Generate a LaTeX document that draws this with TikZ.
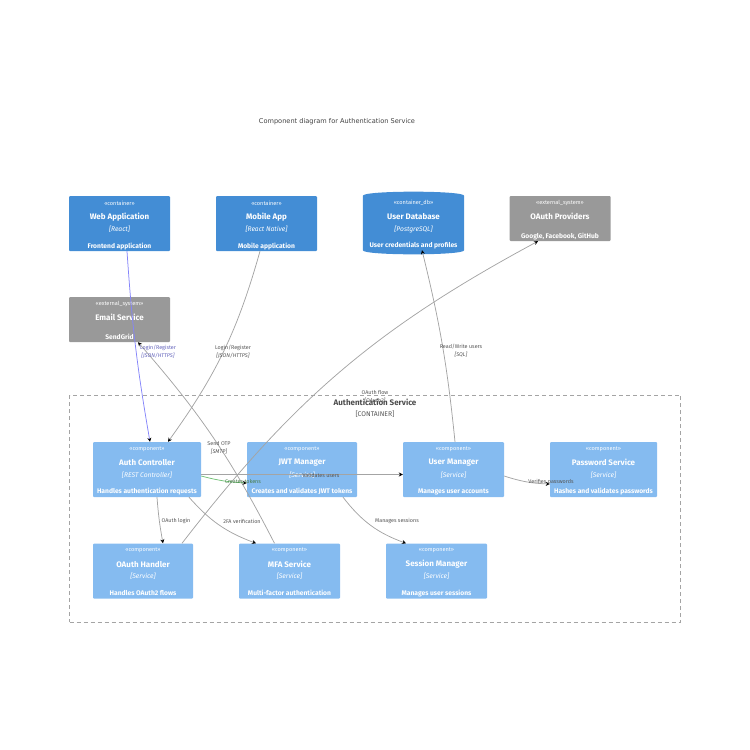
\documentclass[tikz,border=0pt]{standalone}
\usepackage{fontspec}
\setmainfont{Fira Sans}
\newfontfamily\titlefont{DejaVu Sans}
\usetikzlibrary{arrows.meta,positioning,calc}
\definecolor{containerblue}{HTML}{438DD5}
\definecolor{componentblue}{HTML}{85BBF0}
\definecolor{externalgray}{HTML}{999999}
\definecolor{linegray}{HTML}{A4A4A4}
\definecolor{labelgray}{HTML}{555555}
\definecolor{loginblue}{HTML}{8484FA}
\definecolor{tokengreen}{HTML}{70C074}
\tikzset{
	box/.style = {rectangle,rounded corners=1pt,inner sep=0pt},
	boxtext/.style = {text=white,inner sep=0pt,align=center},
	stereo/.style = {boxtext,font=\fontsize{5.6}{5}\selectfont},
	boxtitle/.style = {boxtext,font=\fontsize{8}{9}\selectfont\bfseries},
	boxtech/.style = {boxtext,font=\fontsize{6.7}{8}\selectfont\itshape},
	boxdesc/.style = {boxtext,font=\fontsize{6.7}{8}\selectfont\bfseries},
	rel/.style = {-{Stealth[length=4pt,width=4pt,color=black]},draw=linegray,line width=0.75pt},
	rellabel/.style = {inner sep=0pt,align=center,text=labelgray,font=\fontsize{5.4}{8}\selectfont},
}
\begin{document}
\begin{tikzpicture}[x=1pt,y=-1pt]
	\useasboundingbox (0,0) rectangle (750,750);

	\node[inner sep=0pt,text=black!75,font=\titlefont\fontsize{6.6}{8}\selectfont] (diagramtitle) at (337,121.5) {Component diagram for Authentication Service};

	% boundary
	\node[rectangle,draw=linegray,line width=0.8pt,dash pattern=on 4pt off 3pt,minimum width=611pt,minimum height=227pt,inner sep=0pt] (boundary) at (375,508.5) {};
	\node[inner sep=0pt,text=black!70,font=\fontsize{8}{8}\selectfont\bfseries] (boundarytitle) at (375,402) {Authentication Service};
	\node[inner sep=0pt,text=labelgray,font=\fontsize{6.8}{8}\selectfont] (boundarytype) at (375,414) {[CONTAINER]};

	% containers
	\foreach \nm/\x/\ti/\te/\de in {web/119.5/Web Application/React/Frontend application,mobile/266.5/Mobile App/React Native/Mobile application}{
		\node[box,fill=containerblue,minimum width=101pt,minimum height=55pt] (\nm) at (\x,223.5) {};
		\node[stereo] (\nm-st) at (\x,203) {<<container>>};
		\node[boxtitle] (\nm-ti) at (\x,216.8) {\ti};
		\node[boxtech] (\nm-te) at (\x,229.3) {[\te]};
		\node[boxdesc] (\nm-de) at (\x,246.3) {\de};
	}

	% database
	\node[minimum width=101pt,minimum height=54pt,inner sep=0pt] (db) at (413.5,223) {};
	\fill[containerblue] (db.north west) .. controls ([yshift=5.5pt]db.north west) and ([yshift=5.5pt]db.north east) .. (db.north east) -- (db.south east) .. controls ([yshift=-5.5pt]db.south east) and ([yshift=-5.5pt]db.south west) .. (db.south west) -- cycle;
	\node[stereo] (db-st) at (413.5,203) {<<container\_db>>};
	\node[boxtitle] (db-ti) at (413.5,216.8) {User Database};
	\node[boxtech] (db-te) at (413.5,229.3) {[PostgreSQL]};
	\node[boxdesc] (db-de) at (413.5,245.3) {User credentials and profiles};

	% external systems
	\foreach \nm/\x/\y/\ti/\de in {email/119.5/319.5/Email Service/SendGrid,oauth/560/218.5/OAuth Providers/{Google, Facebook, GitHub}}{
		\node[box,fill=externalgray,minimum width=101pt,minimum height=45pt] (\nm) at (\x,\y) {};
		\node[stereo] (\nm-st) at ($(\nm.north)+(0,7)$) {<<external\_system>>};
		\node[boxtitle] (\nm-ti) at ($(\nm.north)+(0,20.8)$) {\ti};
		\node[boxdesc] (\nm-de) at ($(\nm.north)+(0,40.3)$) {\de};
	}

	% components
	\foreach \nm/\x/\y/\w/\ti/\te/\de in {
		auth/147/469.5/108/Auth Controller/REST Controller/Handles authentication requests,
		jwt/302/469.5/110/JWT Manager/Service/Creates and validates JWT tokens,
		user/453.5/469.5/101/User Manager/Service/Manages user accounts,
		pass/603.5/469.5/107/Password Service/Service/Hashes and validates passwords,
		handler/143/571/100/OAuth Handler/Service/Handles OAuth2 flows,
		mfa/289.5/571/101/MFA Service/Service/Multi-factor authentication,
		session/436.5/571/101/Session Manager/Service/Manages user sessions}{
		\node[box,fill=componentblue,minimum width=\w pt,minimum height=55pt] (\nm) at (\x,\y) {};
		\node[stereo] (\nm-st) at ($(\nm.north)+(0,7)$) {<<component>>};
		\node[boxtitle] (\nm-ti) at ($(\nm.north)+(0,20.8)$) {\ti};
		\node[boxtech] (\nm-te) at ($(\nm.north)+(0,33.3)$) {[\te]};
		\node[boxdesc] (\nm-de) at ($(\nm.north)+(0,49.8)$) {\de};
	}

	% relations
	\draw[rel,draw=loginblue] ([xshift=7.5pt]web.south) to[bend right=3] ([xshift=3pt]auth.north);
	\draw[rel] ([xshift=-6.5pt]mobile.south) to[bend left=10] ([xshift=21pt]auth.north);
	\draw[rel] ([xshift=-15pt]mfa.north) to[bend right=7] ([xshift=18.5pt]email.south);
	\draw[rel] ([xshift=39pt]handler.north) to[bend left=12] ([xshift=-22pt]oauth.south);
	\draw[rel] ([xshift=1.5pt]user.north) to[bend right=4] ([xshift=8.5pt]db.south);
	\draw[rel] ([yshift=-5pt]auth.east) -- ([yshift=-5pt]user.west);
	\draw[rel,draw=tokengreen] ([yshift=-6.5pt]auth.east) to[bend right=6] ([yshift=-13.5pt]jwt.west);
	\draw[rel] ([xshift=10pt]auth.south) to[bend right=3] ([xshift=20pt]handler.north);
	\draw[rel] ([xshift=42pt]auth.south) to[bend right=14] ([xshift=-33.5pt]mfa.north);
	\draw[rel] ([xshift=41pt]jwt.south) to[bend right=16] ([xshift=-30.5pt]session.north);
	\draw[rel] ([yshift=-6.5pt]user.east) to[bend right=8] ([yshift=-14.5pt]pass.west);

	% labels
	\node[rellabel,text=loginblue!75!black] (loginweb) at (158,352) {Login/Register\\\textit{[JSON/HTTPS]}};
	\node[rellabel] (loginmobile) at (233,352) {Login/Register\\\textit{[JSON/HTTPS]}};
	\node[rellabel] (sendotp) at (219,447.5) {Send OTP\\\textit{[SMTP]}};
	\node[rellabel] (oauthflow) at (375,397) {OAuth flow\\\textit{[OAuth2]}};
	\node[rellabel] (readwrite) at (461,351) {Read/Write users\\\textit{[SQL]}};
	\node[rellabel] (validates) at (321,475) {Validates users};
	\node[rellabel,text=tokengreen!65!black] (creates) at (243,482) {Creates tokens};
	\node[rellabel] (oauthlogin) at (176,521) {OAuth login};
	\node[rellabel] (twofa) at (242,521) {2FA verification};
	\node[rellabel] (managessessions) at (397,521) {Manages sessions};
	\node[rellabel] (verifies) at (551,482) {Verifies passwords};
\end{tikzpicture}
\end{document}
